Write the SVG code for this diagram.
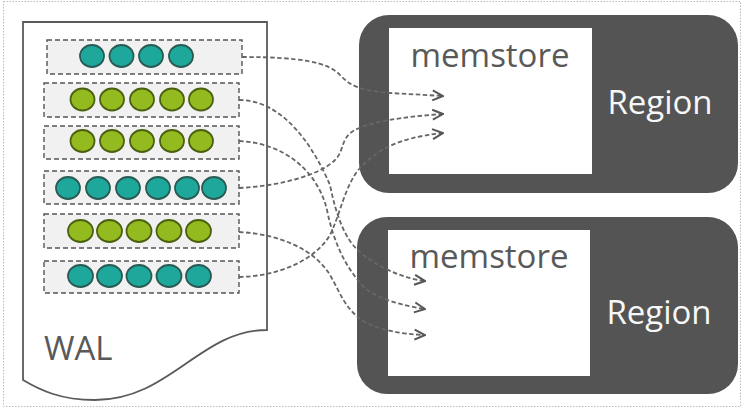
<svg xmlns="http://www.w3.org/2000/svg" width="744" height="414" viewBox="0 0 744 414">
<style>
.frame{fill:#ffffff;stroke:#bdbdbd;stroke-width:1;stroke-dasharray:1.5 1.5}
.doc{fill:#ffffff;stroke:#5a5a5a;stroke-width:1.8}
.row{fill:#f1f1f1;stroke:#555555;stroke-width:1.4;stroke-dasharray:5 3}
.teal{fill:#1ea89b;stroke:#2a5a54;stroke-width:1.8}
.green{fill:#93ba1e;stroke:#4b6010;stroke-width:1.8}
.region{fill:#545454}
.mem{fill:#ffffff}
.lbl{font-family:"Open Sans","Noto Sans","Liberation Sans",sans-serif;font-size:33px}
.dark{fill:#595959}
.light{fill:#f7f7f7;text-anchor:middle}
.conn{fill:none;stroke:#666666;stroke-width:1.8;stroke-dasharray:4.5 2.5}
</style>
<defs>
<marker id="chev" viewBox="0 0 13 13" refX="12" refY="6.5" markerWidth="13" markerHeight="13" markerUnits="userSpaceOnUse" orient="auto">
<path d="M1.5,1.5 L12,6.5 L1.5,11.5" fill="none" stroke="#555555" stroke-width="2"/>
</marker>
</defs>
<rect class="frame" x="3.5" y="1.5" width="737" height="405"/>
<g id="wal">
<path class="doc" d="M23,22 H267 V330 C200,330 170,400 95,400 C60,400 40,390 23,380 Z"/>
<text class="lbl dark" x="44" y="360" font-size="34">WAL</text>
</g>
<g id="row1">
<rect class="row" x="47" y="40" width="195" height="34"/>
<ellipse class="teal" cx="92" cy="56" rx="12" ry="11"/>
<ellipse class="teal" cx="121.5" cy="56" rx="12" ry="11"/>
<ellipse class="teal" cx="151" cy="56" rx="12" ry="11"/>
<ellipse class="teal" cx="181" cy="56" rx="12" ry="11"/>
</g>
<g id="row2">
<rect class="row" x="44" y="83" width="195" height="34"/>
<ellipse class="green" cx="82.5" cy="99.5" rx="12" ry="11"/>
<ellipse class="green" cx="112" cy="99.5" rx="12" ry="11"/>
<ellipse class="green" cx="142" cy="99.5" rx="12" ry="11"/>
<ellipse class="green" cx="172" cy="99.5" rx="12" ry="11"/>
<ellipse class="green" cx="201" cy="99.5" rx="12" ry="11"/>
</g>
<g id="row3">
<rect class="row" x="44" y="126" width="195" height="33"/>
<ellipse class="green" cx="82.5" cy="141" rx="12" ry="11"/>
<ellipse class="green" cx="112" cy="141" rx="12" ry="11"/>
<ellipse class="green" cx="142" cy="141" rx="12" ry="11"/>
<ellipse class="green" cx="172" cy="141" rx="12" ry="11"/>
<ellipse class="green" cx="201" cy="141" rx="12" ry="11"/>
</g>
<g id="row4">
<rect class="row" x="44" y="171" width="195" height="33"/>
<ellipse class="teal" cx="68" cy="188" rx="12" ry="11"/>
<ellipse class="teal" cx="98" cy="188" rx="12" ry="11"/>
<ellipse class="teal" cx="128" cy="188" rx="12" ry="11"/>
<ellipse class="teal" cx="158" cy="188" rx="12" ry="11"/>
<ellipse class="teal" cx="187" cy="188" rx="12" ry="11"/>
<ellipse class="teal" cx="214" cy="188" rx="12" ry="11"/>
</g>
<g id="row5">
<rect class="row" x="44" y="214" width="195" height="34"/>
<ellipse class="green" cx="80.5" cy="231" rx="12.5" ry="11"/>
<ellipse class="green" cx="109.5" cy="231" rx="12.5" ry="11"/>
<ellipse class="green" cx="139" cy="231" rx="12.5" ry="11"/>
<ellipse class="green" cx="169" cy="231" rx="12.5" ry="11"/>
<ellipse class="green" cx="198.5" cy="231" rx="12.5" ry="11"/>
</g>
<g id="row6">
<rect class="row" x="44" y="261" width="195" height="32"/>
<ellipse class="teal" cx="80.5" cy="276" rx="12.5" ry="11"/>
<ellipse class="teal" cx="109.5" cy="276" rx="12.5" ry="11"/>
<ellipse class="teal" cx="139" cy="276" rx="12.5" ry="11"/>
<ellipse class="teal" cx="169" cy="276" rx="12.5" ry="11"/>
<ellipse class="teal" cx="198.5" cy="276" rx="12.5" ry="11"/>
</g>
<g id="region1">
<rect class="region" x="359" y="15" width="379" height="178" rx="30" ry="30"/>
<rect class="mem" x="389" y="28" width="203" height="146"/>
<text class="lbl dark" x="490" y="67" text-anchor="middle">memstore</text>
<text class="lbl light" x="660" y="114">Region</text>
</g>
<g id="region2">
<rect class="region" x="357" y="217" width="381" height="177" rx="30" ry="30"/>
<rect class="mem" x="388" y="230" width="202" height="146"/>
<text class="lbl dark" x="489" y="268" text-anchor="middle">memstore</text>
<text class="lbl light" x="659" y="324">Region</text>
</g>
<g id="connectors">
<path class="conn" marker-end="url(#chev)" d="M242,57 C300,57 328,62 340,75 C350,86 362,91 390,93 L443,96"/>
<path class="conn" marker-end="url(#chev)" d="M239,188 C280,186 320,175 335,160 C345,150 340,138 355,130 C370,122 400,117 443,114"/>
<path class="conn" marker-end="url(#chev)" d="M239,277 C280,276 315,260 330,235 C340,215 345,185 360,168 C375,152 395,138 443,133"/>
<path class="conn" marker-end="url(#chev)" d="M239,100 C285,100 315,150 330,185 C336,215 345,240 360,252 C375,265 400,278 425,281"/>
<path class="conn" marker-end="url(#chev)" d="M239,141 C285,143 318,172 327,210 C333,240 345,268 365,288 C380,300 405,306 425,309"/>
<path class="conn" marker-end="url(#chev)" d="M239,232 C280,234 315,250 330,275 C340,292 345,310 365,322 C380,330 400,334 425,335"/>
</g>
</svg>
